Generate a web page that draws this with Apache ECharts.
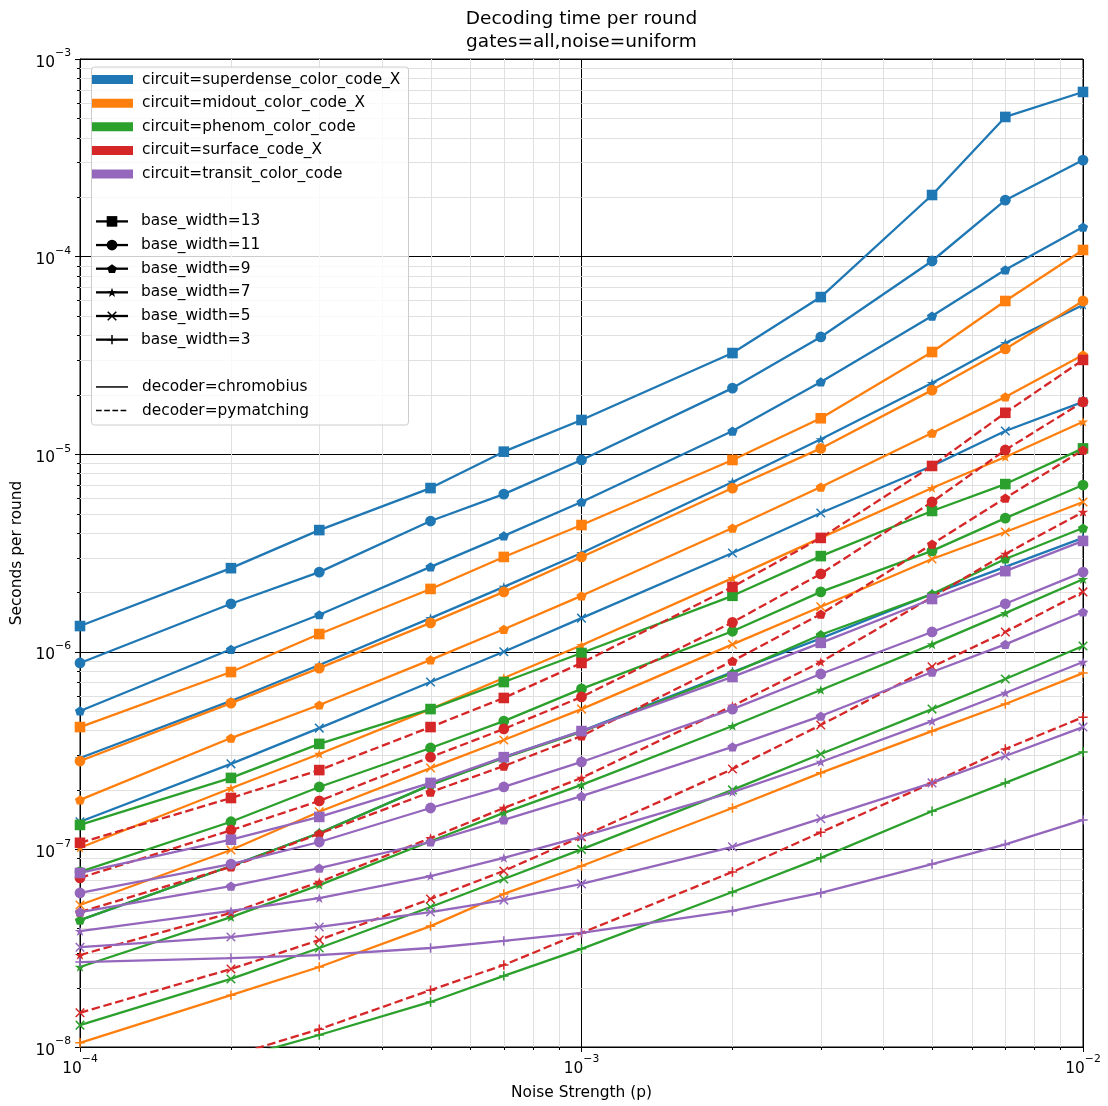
<!DOCTYPE html>
<html><head><meta charset="utf-8">
<script src="https://cdn.jsdelivr.net/npm/echarts@6/dist/echarts.min.js"></script>
<style>html,body{margin:0;padding:0;background:#fff}#c{width:1108px;height:1106px}</style>
</head><body><div id="c"></div>
<script>
// ---------------- data ----------------
const noise = [1e-4, 2e-4, 3e-4, 5e-4, 7e-4, 1e-3, 2e-3, 3e-3, 5e-3, 7e-3, 1e-2];
const xTickExponents = [-4, -3, -2];
const yTickExponents = [-8, -7, -6, -5, -4, -3];

const superdense13 = [1.35e-6, 2.65e-6, 4.13e-6, 6.74e-6, 1.03e-5, 1.49e-5, 3.25e-5, 6.24e-5, 2.05e-4, 5.09e-4, 6.81e-4];
const superdense11 = [8.78e-7, 1.75e-6, 2.53e-6, 4.59e-6, 6.28e-6, 9.35e-6, 2.16e-5, 3.92e-5, 9.5e-5, 1.93e-4, 3.08e-4];
const superdense9  = [5.02e-7, 1.03e-6, 1.54e-6, 2.69e-6, 3.86e-6, 5.73e-6, 1.31e-5, 2.32e-5, 5.0e-5, 8.57e-5, 1.41e-4];
const superdense7  = [2.9e-7, 5.64e-7, 8.58e-7, 1.48e-6, 2.13e-6, 3.16e-6, 7.24e-6, 1.19e-5, 2.29e-5, 3.65e-5, 5.69e-5];
const superdense5  = [1.38e-7, 2.71e-7, 4.11e-7, 7.03e-7, 1.0e-6, 1.48e-6, 3.16e-6, 5.04e-6, 8.72e-6, 1.31e-5, 1.84e-5];
const superdense3  = [4.39e-8, 8.24e-8, 1.21e-7, 2.12e-7, 2.93e-7, 3.97e-7, 7.9e-7, 1.17e-6, 1.96e-6, 2.69e-6, 3.77e-6];

const midout13 = [4.16e-7, 7.9e-7, 1.23e-6, 2.08e-6, 3.02e-6, 4.38e-6, 9.35e-6, 1.52e-5, 3.29e-5, 5.96e-5, 1.08e-4];
const midout11 = [2.8e-7, 5.5e-7, 8.27e-7, 1.4e-6, 2.01e-6, 3.02e-6, 6.74e-6, 1.07e-5, 2.11e-5, 3.41e-5, 5.96e-5];
const midout9  = [1.78e-7, 3.66e-7, 5.38e-7, 9.1e-7, 1.3e-6, 1.92e-6, 4.23e-6, 6.82e-6, 1.28e-5, 1.95e-5, 3.18e-5];
const midout7  = [1.02e-7, 2.04e-7, 3.04e-7, 5.13e-7, 7.37e-7, 1.08e-6, 2.36e-6, 3.77e-6, 6.74e-6, 9.68e-6, 1.46e-5];
const midout5  = [5.23e-8, 9.93e-8, 1.55e-7, 2.58e-7, 3.58e-7, 5.13e-7, 1.09e-6, 1.69e-6, 2.95e-6, 4.04e-6, 5.73e-6];
const midout3  = [1.05e-8, 1.83e-8, 2.54e-8, 4.09e-8, 5.95e-8, 8.24e-8, 1.62e-7, 2.44e-7, 3.97e-7, 5.44e-7, 7.8e-7];

const phenom13 = [1.33e-7, 2.3e-7, 3.42e-7, 5.13e-7, 7.03e-7, 9.86e-7, 1.92e-6, 3.05e-6, 5.16e-6, 7.06e-6, 1.07e-5];
const phenom11 = [7.69e-8, 1.38e-7, 2.07e-7, 3.26e-7, 4.46e-7, 6.49e-7, 1.27e-6, 2.01e-6, 3.24e-6, 4.75e-6, 6.98e-6];
const phenom9  = [4.39e-8, 8.24e-8, 1.21e-7, 2.12e-7, 2.9e-7, 3.93e-7, 7.8e-7, 1.22e-6, 1.96e-6, 2.95e-6, 4.23e-6];
const phenom7  = [2.54e-8, 4.54e-8, 6.6e-8, 1.1e-7, 1.53e-7, 2.12e-7, 4.21e-7, 6.41e-7, 1.09e-6, 1.57e-6, 2.33e-6];
const phenom5  = [1.29e-8, 2.21e-8, 3.17e-8, 5.11e-8, 7.08e-8, 1.0e-7, 2.0e-7, 3.04e-7, 5.13e-7, 7.28e-7, 1.07e-6];
const phenom3  = [5.09e-9, 8.6e-9, 1.15e-8, 1.69e-8, 2.29e-8, 3.14e-8, 6.09e-8, 9.06e-8, 1.56e-7, 2.17e-7, 3.11e-7];

const surface13 = [1.08e-7, 1.82e-7, 2.52e-7, 4.16e-7, 5.84e-7, 8.78e-7, 2.13e-6, 3.77e-6, 8.72e-6, 1.62e-5, 3.0e-5];
const surface11 = [7.17e-8, 1.25e-7, 1.76e-7, 2.93e-7, 4.07e-7, 5.91e-7, 1.41e-6, 2.48e-6, 5.73e-6, 1.05e-5, 1.84e-5];
const surface9  = [4.82e-8, 8.15e-8, 1.2e-7, 1.95e-7, 2.64e-7, 3.75e-7, 8.98e-7, 1.55e-6, 3.51e-6, 6.0e-6, 1.05e-5];
const surface7  = [2.92e-8, 4.77e-8, 6.84e-8, 1.14e-7, 1.62e-7, 2.3e-7, 5.32e-7, 8.88e-7, 1.89e-6, 3.13e-6, 5.1e-6];
const surface5  = [1.49e-8, 2.48e-8, 3.48e-8, 5.61e-8, 7.78e-8, 1.16e-7, 2.55e-7, 4.26e-7, 8.39e-7, 1.26e-6, 2.01e-6];
const surface3  = [5.39e-9, 9.0e-9, 1.23e-8, 1.94e-8, 2.6e-8, 3.78e-8, 7.69e-8, 1.22e-7, 2.17e-7, 3.22e-7, 4.67e-7];

const transit13 = [7.6e-8, 1.12e-7, 1.46e-7, 2.17e-7, 2.93e-7, 3.97e-7, 7.46e-7, 1.11e-6, 1.85e-6, 2.56e-6, 3.64e-6];
const transit11 = [6.02e-8, 8.43e-8, 1.09e-7, 1.62e-7, 2.07e-7, 2.77e-7, 5.13e-7, 7.72e-7, 1.26e-6, 1.75e-6, 2.53e-6];
const transit9  = [4.82e-8, 6.52e-8, 8.05e-8, 1.09e-7, 1.41e-7, 1.86e-7, 3.3e-7, 4.73e-7, 7.9e-7, 1.09e-6, 1.59e-6];
const transit7  = [3.86e-8, 4.88e-8, 5.67e-8, 7.33e-8, 9.06e-8, 1.16e-7, 1.95e-7, 2.77e-7, 4.46e-7, 6.19e-7, 8.88e-7];
const transit5  = [3.2e-8, 3.6e-8, 4.05e-8, 4.82e-8, 5.54e-8, 6.69e-8, 1.03e-7, 1.43e-7, 2.17e-7, 2.97e-7, 4.16e-7];
const transit3  = [2.69e-8, 2.82e-8, 2.92e-8, 3.17e-8, 3.44e-8, 3.78e-8, 4.88e-8, 6.02e-8, 8.43e-8, 1.06e-7, 1.41e-7];

const circuitLabels = ['circuit=superdense_color_code_X', 'circuit=midout_color_code_X', 'circuit=phenom_color_code', 'circuit=surface_code_X', 'circuit=transit_color_code'];
const widthLabels = ['base_width=13', 'base_width=11', 'base_width=9', 'base_width=7', 'base_width=5', 'base_width=3'];
const decoderLabels = ['decoder=chromobius', 'decoder=pymatching'];

// ---------------- styling ----------------
const FONT = 'DejaVu Sans';
const FS = 15.4;      // body text size
const COLORS = ['#1f77b4', '#ff7f0e', '#2ca02c', '#d62728', '#9467bd'];
// marker outlines in a 10x10 box
const POLYS = {
  rect: [[[0,0],[10,0],[10,10],[0,10]]],
  pent: [[[5,0],[9.755,3.455],[7.939,9.045],[2.061,9.045],[0.245,3.455]]],
  star: [[[5,0],[6.123,3.455],[9.755,3.455],[6.817,5.59],[7.939,9.045],[5,6.91],[2.061,9.045],[3.183,5.59],[0.245,3.455],[3.877,3.455]]],
  x: [[[1.1,0],[10,8.9],[8.9,10],[0,1.1]], [[8.9,0],[10,1.1],[1.1,10],[0,8.9]]],
  plus: [[[4.2,0],[5.8,0],[5.8,4.2],[10,4.2],[10,5.8],[5.8,5.8],[5.8,10],[4.2,10],[4.2,5.8],[0,5.8],[0,4.2],[4.2,4.2]]]
};
function toPath(polys) {
  return 'path://' + polys.map(p => 'M' + p.map(q => q[0] + ',' + q[1]).join(' L') + ' Z').join(' ');
}
const MARK = [
  {symbol: 'rect', size: [10.6, 10.6], polys: POLYS.rect},
  {symbol: 'circle', size: [10.8, 10.8], polys: null},
  {symbol: toPath(POLYS.pent), size: [10.2, 9.7], polys: POLYS.pent},
  {symbol: toPath(POLYS.star), size: [10.6, 10.1], polys: POLYS.star},
  {symbol: toPath(POLYS.x), size: [9.6, 9.6], polys: POLYS.x},
  {symbol: toPath(POLYS.plus), size: [9.4, 9.4], polys: POLYS.plus}
];
const DASH = [8.5, 3.7];
const LW = 2.3;

const groups = [
  [superdense13, superdense11, superdense9, superdense7, superdense5, superdense3],
  [midout13, midout11, midout9, midout7, midout5, midout3],
  [phenom13, phenom11, phenom9, phenom7, phenom5, phenom3],
  [surface13, surface11, surface9, surface7, surface5, surface3],
  [transit13, transit11, transit9, transit7, transit5, transit3]
];
const pymatching = [false, false, false, true, false];

const series = [];
groups.forEach((g, ci) => {
  g.forEach((vals, wi) => {
    series.push({
      type: 'line',
      name: circuitLabels[ci] + ' ' + widthLabels[wi],
      data: noise.map((x, i) => [x, vals[i]]),
      symbol: MARK[wi].symbol,
      symbolSize: MARK[wi].size,
      symbolKeepAspect: true,
      showSymbol: true,
      clip: true,
      silent: true,
      animation: false,
      z: 3,
      lineStyle: {color: COLORS[ci], width: LW, type: pymatching[ci] ? DASH : 'solid'},
      itemStyle: {color: COLORS[ci], borderWidth: 0},
      emphasis: {disabled: true}
    });
  });
});

// minor grid + minor ticks (log decades 2..9)
const xMinor = [];
for (let e = -4; e < -2; e++) for (let m = 2; m <= 9; m++) xMinor.push(m * Math.pow(10, e));
const yMinor = [];
for (let e = -8; e < -3; e++) for (let m = 2; m <= 9; m++) yMinor.push(m * Math.pow(10, e));
const X0 = 1e-4, X1 = 1e-2, Y0 = 1e-8, Y1 = 1e-3;

series.unshift({
  type: 'custom',
  silent: true,
  animation: false,
  clip: false,
  z: 1,
  data: xMinor.map(v => [v, Y0, 0]).concat(yMinor.map(v => [X0, v, 1])),
  encode: {x: 0, y: 1},
  renderItem: function (params, api) {
    const kind = api.value(2);
    if (kind === 0) {
      const v = api.value(0);
      const top = api.coord([v, Y1]), bot = api.coord([v, Y0]);
      const x = Math.round(top[0]) + 0.5;
      return {type: 'group', children: [
        {type: 'line', shape: {x1: x, y1: top[1], x2: x, y2: bot[1]}, style: {stroke: '#e0e0e0', lineWidth: 1}},
        {type: 'line', shape: {x1: x, y1: bot[1], x2: x, y2: bot[1] + 3}, style: {stroke: '#000', lineWidth: 1}}
      ]};
    } else {
      const v = api.value(1);
      const l = api.coord([X0, v]), r = api.coord([X1, v]);
      const y = Math.round(l[1]) + 0.5;
      return {type: 'group', children: [
        {type: 'line', shape: {x1: l[0], y1: y, x2: r[0], y2: y}, style: {stroke: '#e0e0e0', lineWidth: 1}},
        {type: 'line', shape: {x1: l[0] - 3, y1: y, x2: l[0], y2: y}, style: {stroke: '#000', lineWidth: 1}}
      ]};
    }
  }
});

function expLabel(value) {
  const e = Math.round(Math.log10(value));
  return '{b|10}{s|\u2212' + Math.abs(e) + '}';
}
const richLabel = {
  b: {fontFamily: FONT, fontSize: FS, color: '#000', lineHeight: 22, verticalAlign: 'bottom'},
  s: {fontFamily: FONT, fontSize: 10.8, color: '#000', lineHeight: 11, verticalAlign: 'top'}
};

// ---------------- title + legend (graphic) ----------------
const graphic = [];
graphic.push({type: 'text', x: 581.5, y: 19, z: 100, style: {text: 'Decoding time per round', font: '18.5px "DejaVu Sans"', fill: '#000', textAlign: 'center', textVerticalAlign: 'middle'}});
graphic.push({type: 'text', x: 581.5, y: 42, z: 100, style: {text: 'gates=all,noise=uniform', font: '18.5px "DejaVu Sans"', fill: '#000', textAlign: 'center', textVerticalAlign: 'middle'}});
graphic.push({type: 'rect', z: 100, shape: {x: 91.5, y: 67, width: 317, height: 358, r: 3}, style: {fill: 'rgba(255,255,255,0.8)', stroke: '#cccccc', lineWidth: 1}});
const rowY = i => 79.5 + i * 23.65;
const legendFont = FS + 'px "DejaVu Sans"';
circuitLabels.forEach((t, i) => {
  const y = rowY(i);
  graphic.push({type: 'rect', z: 101, shape: {x: 92, y: y - 4.5, width: 41, height: 9}, style: {fill: COLORS[i]}});
  graphic.push({type: 'text', z: 101, x: 142, y: y, style: {text: t, font: legendFont, fill: '#000', textVerticalAlign: 'middle'}});
});
widthLabels.forEach((t, i) => {
  const y = rowY(6 + i);
  graphic.push({type: 'line', z: 101, shape: {x1: 96, y1: y, x2: 128, y2: y}, style: {stroke: '#000', lineWidth: LW}});
  const mk = MARK[i];
  if (mk.polys) {
    const sx = mk.size[0] / 10, sy = mk.size[1] / 10;
    let minX = 1e9, maxX = -1e9, minY = 1e9, maxY = -1e9;
    mk.polys.forEach(pp => pp.forEach(q => { minX = Math.min(minX, q[0]); maxX = Math.max(maxX, q[0]); minY = Math.min(minY, q[1]); maxY = Math.max(maxY, q[1]); }));
    const cx0 = (minX + maxX) / 2, cy0 = (minY + maxY) / 2;
    mk.polys.forEach(p => {
      graphic.push({type: 'polygon', z: 102, shape: {points: p.map(q => [112 + (q[0] - cx0) * sx, y + (q[1] - cy0) * sy])}, style: {fill: '#000'}});
    });
  } else {
    graphic.push({type: 'circle', z: 102, shape: {cx: 112, cy: y, r: mk.size[0] / 2}, style: {fill: '#000'}});
  }
  graphic.push({type: 'text', z: 101, x: 141, y: y, style: {text: t, font: legendFont, fill: '#000', textVerticalAlign: 'middle'}});
});
decoderLabels.forEach((t, i) => {
  const y = rowY(13 + i);
  const ln = {type: 'line', z: 101, shape: {x1: 96, y1: y, x2: 128, y2: y}, style: {stroke: '#000', lineWidth: 1.5}};
  if (i === 1) ln.style.lineDash = [5.7, 2.5];
  graphic.push(ln);
  graphic.push({type: 'text', z: 101, x: 142, y: y, style: {text: t, font: legendFont, fill: '#000', textVerticalAlign: 'middle'}});
});

// ---------------- chart ----------------
const chart = echarts.init(document.getElementById('c'), null, {renderer: 'canvas', width: 1108, height: 1106});
chart.setOption({
  backgroundColor: '#fff',
  animation: false,
  textStyle: {fontFamily: FONT},
  grid: {left: 80, right: 25, top: 59, bottom: 59, show: true, borderColor: '#000', borderWidth: 1, backgroundColor: 'transparent'},
  xAxis: {
    type: 'log', logBase: 10, min: X0, max: X1,
    axisLine: {show: true, onZero: false, lineStyle: {color: '#000', width: 1}},
    axisTick: {show: true, length: 5, lineStyle: {color: '#000', width: 1}},
    axisLabel: {formatter: expLabel, rich: richLabel, margin: 7, color: '#000'},
    splitLine: {show: true, lineStyle: {color: '#000', width: 1}},
    minorTick: {show: false}, minorSplitLine: {show: false},
    name: 'Noise Strength (p)', nameLocation: 'middle', nameGap: 38,
    nameTextStyle: {fontFamily: FONT, fontSize: FS, color: '#000'}
  },
  yAxis: {
    type: 'log', logBase: 10, min: Y0, max: Y1,
    axisLine: {show: true, onZero: false, lineStyle: {color: '#000', width: 1}},
    axisTick: {show: true, length: 5, lineStyle: {color: '#000', width: 1}},
    axisLabel: {formatter: expLabel, rich: richLabel, margin: 9, color: '#000'},
    splitLine: {show: true, lineStyle: {color: '#000', width: 1}},
    minorTick: {show: false}, minorSplitLine: {show: false},
    name: 'Seconds per round', nameLocation: 'middle', nameGap: 51, nameRotate: 90,
    nameTextStyle: {fontFamily: FONT, fontSize: FS, color: '#000'}
  },
  graphic: graphic,
  series: series
});
</script>
</body></html>
